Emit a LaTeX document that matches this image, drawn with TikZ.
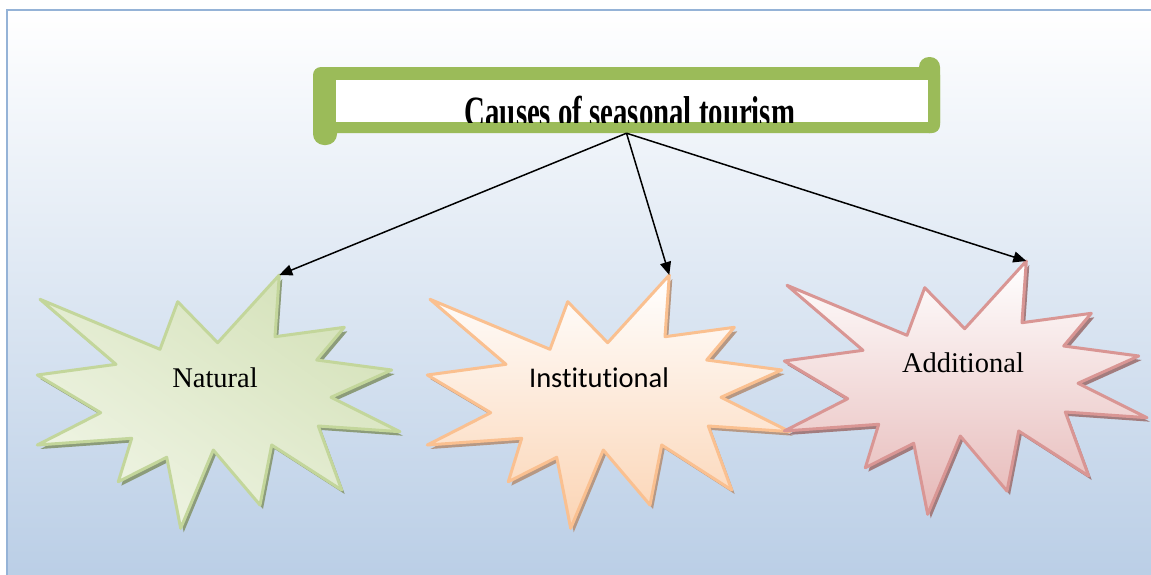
\documentclass[tikz,border=0pt]{standalone}
\usepackage{fontspec}
\setmainfont{Liberation Serif}
\newfontfamily\calibrifont[Ligatures={NoCommon}]{Carlito}
\usetikzlibrary{arrows.meta}

\definecolor{framegreen}{RGB}{155,187,89}
\definecolor{panelblue}{RGB}{149,179,215}
\definecolor{panelbottom}{RGB}{186,206,230}
\definecolor{natline}{RGB}{195,214,155}
\definecolor{natdark}{RGB}{213,226,186}
\definecolor{natlight}{RGB}{239,244,228}
\definecolor{natshadow}{RGB}{140,156,122}
\definecolor{instline}{RGB}{250,192,144}
\definecolor{instfill}{RGB}{251,212,180}
\definecolor{instshadow}{RGB}{182,152,132}
\definecolor{addline}{RGB}{217,150,148}
\definecolor{addfill}{RGB}{230,184,183}
\definecolor{addshadow}{RGB}{162,124,126}

% twelve-point burst outline, drawn with the given options
\newcommand\burstpath[1]{%
  \path[#1] (40,299.3) -- (160,349.3) -- (177.7,301.7) -- (217.7,342.7)
    -- (279.3,275) -- (275,336.7) -- (344.3,327.3) -- (316.7,360)
    -- (391.7,370) -- (331,397.3) -- (400,431.7) -- (318.3,426)
    -- (341.7,490) -- (271.7,445) -- (260,505) -- (213.3,450)
    -- (180.7,528.3) -- (166.7,457.3) -- (118.3,481.7) -- (131.7,438.3)
    -- (37.3,445) -- (100.7,412.7) -- (37.3,375) -- (116,364.3) -- cycle;}

\tikzset{
  burstline/.style={line width=3pt, line join=round},
  lbl/.style={inner sep=0pt, font=\fontsize{28.5}{34}\selectfont},
  arr/.style={line width=1.5pt, -{Triangle[length=13pt,width=11pt]}},
}

\begin{document}
\begin{tikzpicture}[x=1pt,y=-1pt]
\useasboundingbox (0,0) rectangle (1151,574);

% panel with vertical gradient
\begin{scope}
  \clip (0,0) rectangle (1151,574);
  \shade[top color=white, bottom color=panelbottom] (7,10) rectangle (1160,580);
  \draw[panelblue, line width=2pt] (7,580) -- (7,10) -- (1160,10);
\end{scope}

% scroll banner for the heading
\node[minimum width=627pt, minimum height=66pt, inner sep=0pt] (title) at (626.5,100) {};
\fill[framegreen, rounded corners=8pt] (313,67) rectangle (940,133);
\fill[framegreen, rounded corners=11pt] (313,67) rectangle (337,145);
\fill[framegreen, rounded corners=10pt] (919,57) rectangle (940,133);
\fill[white] (336,80) rectangle (928,122);
\begin{scope}
  \clip (336,80) rectangle (928,122);
  \node[anchor=base, inner sep=0pt, font=\fontsize{28.8}{34}\selectfont\bfseries]
    (titletext) at (630,126) {\scalebox{1}[1.5]{Causes of seasonal tourism}};
\end{scope}

% Natural
\burstpath{shift={(3,4)}, fill=natshadow}
\burstpath{top color=natdark, bottom color=natlight, shading angle=-35}
\burstpath{draw=natline, burstline}
\coordinate (naturaltip) at (279.3,275);
\node[lbl] (natural) at (215,378) {Natural};

% Institutional
\burstpath{shift={(393,4)}, fill=instshadow}
\burstpath{shift={(390,0)}, top color=white, bottom color=instfill}
\burstpath{shift={(390,0)}, draw=instline, burstline}
\coordinate (institutionaltip) at (669.3,275);
\node[lbl, font=\fontsize{28.5}{34}\calibrifont] (institutional) at (599,378) {Institutional};

% Additional
\burstpath{shift={(750,-10)}, fill=addshadow}
\burstpath{shift={(747,-14)}, top color=white, bottom color=addfill}
\burstpath{shift={(747,-14)}, draw=addline, burstline}
\coordinate (additionaltip) at (1026.3,261);
\node[lbl] (additional) at (963,363) {Additional};

% connectors
\draw[arr] (title.south) -- (naturaltip);
\draw[arr] (title.south) -- (institutionaltip);
\draw[arr] (title.south) -- (additionaltip);
\end{tikzpicture}
\end{document}
